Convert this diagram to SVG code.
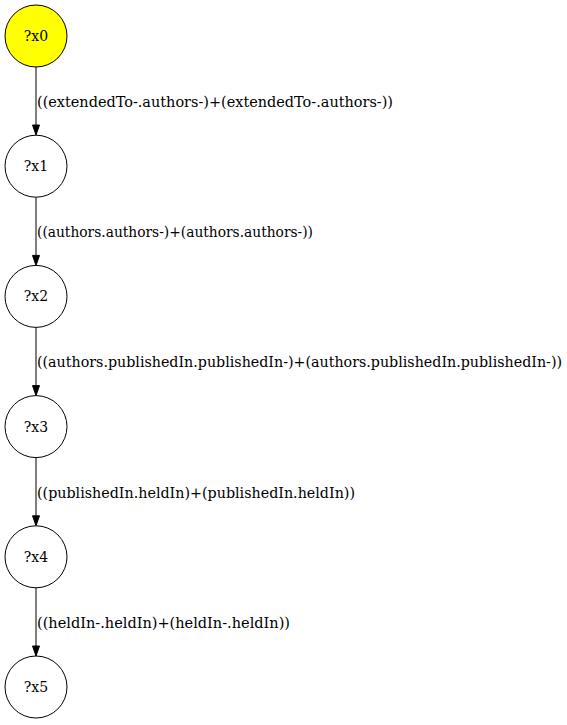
<svg xmlns="http://www.w3.org/2000/svg" width="567" height="725" viewBox="0 0 567 725">
  <style>
    .node circle { fill: #ffffff; stroke: #000000; stroke-width: 1; }
    .node.start circle { fill: #ffff00; }
    text { font-family: "DejaVu Serif", "Liberation Serif", serif; font-size: 14px; fill: #000000; }
    .node text { text-anchor: middle; }
    .edge line { stroke: #000000; stroke-width: 1; }
    .edge polygon { fill: #000000; stroke: #000000; stroke-width: 1; }
  </style>
  <rect width="567" height="725" fill="#ffffff"/>

  <!-- connectors -->
  <g id="edges">
    <g class="edge">
      <line x1="36" y1="67" x2="36" y2="125"/>
      <polygon points="32.5,125 39.5,125 36,135"/>
      <text x="37" y="107" textLength="356" lengthAdjust="spacingAndGlyphs">((extendedTo-.authors-)+(extendedTo-.authors-))</text>
    </g>
    <g class="edge">
      <line x1="36" y1="197.2" x2="36" y2="255.4"/>
      <polygon points="32.5,255.4 39.5,255.4 36,265.4"/>
      <text x="37" y="237.2" textLength="276" lengthAdjust="spacingAndGlyphs">((authors.authors-)+(authors.authors-))</text>
    </g>
    <g class="edge">
      <line x1="36" y1="327.4" x2="36" y2="385.6"/>
      <polygon points="32.5,385.6 39.5,385.6 36,395.6"/>
      <text x="37" y="367.4" textLength="525" lengthAdjust="spacingAndGlyphs">((authors.publishedIn.publishedIn-)+(authors.publishedIn.publishedIn-))</text>
    </g>
    <g class="edge">
      <line x1="36" y1="457.6" x2="36" y2="515.8"/>
      <polygon points="32.5,515.8 39.5,515.8 36,525.8"/>
      <text x="37" y="497.6" textLength="318" lengthAdjust="spacingAndGlyphs">((publishedIn.heldIn)+(publishedIn.heldIn))</text>
    </g>
    <g class="edge">
      <line x1="36" y1="587.8" x2="36" y2="646"/>
      <polygon points="32.5,646 39.5,646 36,656"/>
      <text x="37" y="627.8" textLength="253" lengthAdjust="spacingAndGlyphs">((heldIn-.heldIn)+(heldIn-.heldIn))</text>
    </g>
  </g>

  <!-- nodes -->
  <g id="x0" class="node start">
    <circle cx="36" cy="36" r="31"/>
    <text x="36" y="41">?x0</text>
  </g>
  <g id="x1" class="node">
    <circle cx="36" cy="166.2" r="31"/>
    <text x="36" y="171.2">?x1</text>
  </g>
  <g id="x2" class="node">
    <circle cx="36" cy="296.4" r="31"/>
    <text x="36" y="301.4">?x2</text>
  </g>
  <g id="x3" class="node">
    <circle cx="36" cy="426.6" r="31"/>
    <text x="36" y="431.6">?x3</text>
  </g>
  <g id="x4" class="node">
    <circle cx="36" cy="556.8" r="31"/>
    <text x="36" y="561.8">?x4</text>
  </g>
  <g id="x5" class="node">
    <circle cx="36" cy="687" r="31"/>
    <text x="36" y="692">?x5</text>
  </g>
</svg>
